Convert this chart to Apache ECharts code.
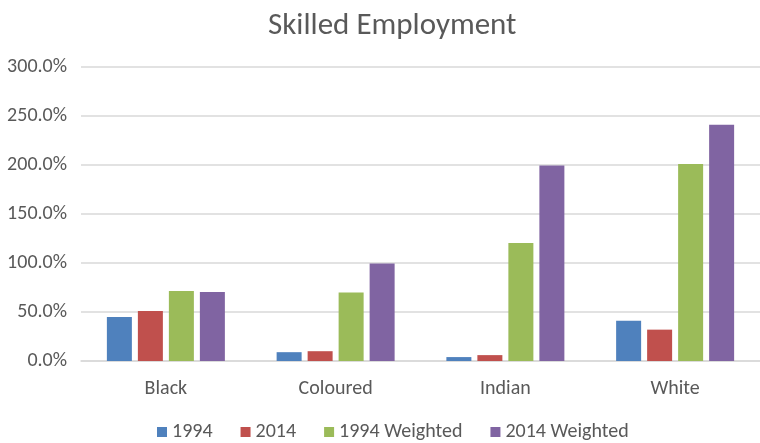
<!DOCTYPE html>
<html>
<head>
<meta charset="utf-8">
<script src="https://cdn.jsdelivr.net/npm/echarts@6/dist/echarts.min.js"></script>
<style>html,body{margin:0;padding:0;background:#fff}#c{width:760px;height:443px}</style>
</head>
<body>
<div id="c"></div>
<script>
const categories = ['Black', 'Coloured', 'Indian', 'White'];
const seriesNames = ['1994', '2014', '1994 Weighted', '2014 Weighted'];
const v1994 = [45, 9, 4, 41];
const v2014 = [51, 10, 6, 32];
const v1994W = [71.5, 70, 120.5, 201];
const v2014W = [70.5, 99.5, 199.5, 241];
const colors = ['#4f81bd', '#c0504d', '#9bbb59', '#8064a2'];
const allValues = [v1994, v2014, v1994W, v2014W];

const font = 'Calibri, Carlito, "Open Sans", sans-serif';
const chart = echarts.init(document.getElementById('c'));
chart.setOption({
  animation: false,
  title: {
    text: 'Skilled Employment',
    left: 263,
    top: 6,
    textStyle: { fontFamily: font, fontSize: 31, fontWeight: 'normal', color: '#595959' }
  },
  legend: {
    top: 417,
    left: 152,
    itemWidth: 10,
    itemHeight: 10,
    itemGap: 28,
    icon: 'rect',
    textStyle: { fontFamily: font, fontSize: 20, color: '#595959' },
    data: seriesNames
  },
  grid: { left: 81, top: 67, width: 683, height: 294, containLabel: false },
  xAxis: {
    type: 'category',
    data: categories,
    axisTick: { show: false },
    axisLine: { lineStyle: { color: '#d9d9d9', width: 1.5 } },
    axisLabel: { fontFamily: font, fontSize: 20, color: '#595959', margin: 18 }
  },
  yAxis: {
    type: 'value',
    min: 0,
    max: 300,
    interval: 50,
    axisLine: { show: false },
    axisTick: { show: false },
    splitLine: { lineStyle: { color: '#d9d9d9', width: 1.5 } },
    axisLabel: { fontFamily: font, fontSize: 20, color: '#595959', margin: 14,
      formatter: v => v.toFixed(1) + '%' }
  },
  series: seriesNames.map((n, i) => ({
    name: n,
    type: 'bar',
    data: allValues[i],
    barWidth: 25,
    barGap: '24%',
    itemStyle: { color: colors[i] }
  }))
});
</script>
</body>
</html>
